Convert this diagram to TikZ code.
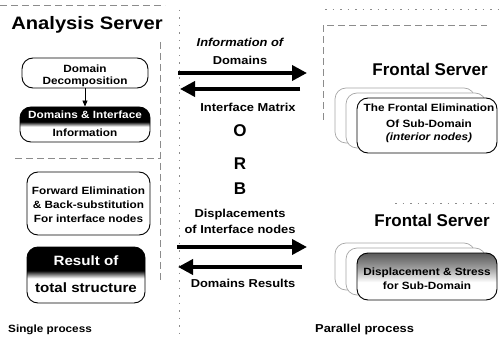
\documentclass[tikz,border=0pt]{standalone}
\usepackage{fontspec}
\setmainfont{Liberation Sans}
\newfontfamily\widesans[FakeStretch=1.12]{Liberation Sans}
\usetikzlibrary{arrows.meta}
% dark upper half, white lower half (path edges sit at 25bp and 75bp)
\pgfdeclareverticalshading{darktop}{100bp}{color(0bp)=(white); color(25bp)=(white); color(47bp)=(white); color(54bp)=(black); color(75bp)=(black); color(100bp)=(black)}
\pgfdeclareverticalshading{greytop}{100bp}{color(0bp)=(white); color(25bp)=(white); color(44bp)=(white); color(60bp)=(black!40); color(75bp)=(black!65); color(100bp)=(black!65)}
\begin{document}
\begin{tikzpicture}[x=1pt,y=-1pt,
  heading/.style={font=\fontsize{18}{20}\selectfont\widesans\bfseries, inner sep=0pt},
  serverhead/.style={font=\fontsize{17}{20}\selectfont\bfseries, inner sep=0pt},
  midlabel/.style={font=\fontsize{11.5}{14}\selectfont\widesans\bfseries, inner sep=0pt},
  boxlabel/.style={font=\fontsize{10.5}{14}\selectfont\widesans\bfseries, inner sep=0pt},
  biglabel/.style={font=\fontsize{13.5}{16}\selectfont\widesans\bfseries, inner sep=0pt},
  bigletter/.style={font=\fontsize{17}{20}\selectfont\bfseries, inner sep=0pt},
  proclabel/.style={font=\fontsize{10.5}{14}\selectfont\widesans\bfseries, inner sep=0pt},
  procbox/.style={draw, rounded corners=11pt, line width=0.9pt, inner sep=0pt, fill=white},
  backbox/.style={draw=black!35, rounded corners=11pt, line width=0.7pt, inner sep=0pt, fill=white},
  darkbox/.style={draw, rounded corners=11pt, line width=0.9pt, inner sep=0pt, shading=darktop},
  greybox/.style={draw, rounded corners=11pt, line width=0.9pt, inner sep=0pt, shading=greytop},
  frameline/.style={draw=black!45, line width=0.6pt, dash pattern=on 7pt off 4pt},
  dotline/.style={draw=black!45, line width=0.6pt, dash pattern=on 1.5pt off 6pt},
  bigarrow/.style={line width=3.6pt, -{Triangle[length=15pt,width=15pt]}},
  smallarrow/.style={line width=0.9pt, -{Triangle[length=6pt,width=5pt]}}
]
\useasboundingbox (0,0) rectangle (500,339);

% ---- panel frames ----
\draw[frameline] (0,5) -- (165,5);
\draw[frameline] (160,42) -- (160,282);
\draw[frameline] (15,158) -- (160,158);
\draw[dotline] (179,10) -- (179,339);
\draw[frameline] (323,120) -- (323,25) -- (487,25);
\draw[dotline] (325,9) -- (498,9);
\draw[dotline] (395,203) -- (495,203);

% ---- single process (left) ----
\node[heading, anchor=base] (anaTitle) at (87,30) {Analysis Server};

\node[procbox, minimum width=126pt, minimum height=30pt] (decomp) at (85,73) {};
\node[boxlabel, anchor=base] (decompA) at (85,73) {Domain};
\node[boxlabel, anchor=base] (decompB) at (85,85) {Decomposition};

\node[darkbox, minimum width=130pt, minimum height=35pt] (info) at (85,124.5) {};
\node[boxlabel, anchor=base, text=white] (infoA) at (85,119) {Domains \& Interface};
\node[boxlabel, anchor=base] (infoB) at (85,137) {Information};

\draw[smallarrow] (decomp.south) -- (info.north);

\node[procbox, minimum width=123pt, minimum height=63pt] (forward) at (88.5,203.5) {};
\node[boxlabel, anchor=base] (forwardA) at (88.5,194) {Forward Elimination};
\node[boxlabel, anchor=base] (forwardB) at (88.5,208) {\& Back-substitution};
\node[boxlabel, anchor=base] (forwardC) at (88.5,222) {For interface nodes};

\node[darkbox, minimum width=118pt, minimum height=56pt] (result) at (86,275) {};
\node[biglabel, anchor=base, text=white] (resultA) at (86,265) {Result of};
\node[biglabel, anchor=base] (resultB) at (86,292) {total structure};

\node[proclabel, anchor=base west] (single) at (8,332) {Single process};

% ---- ORB (middle) ----
\node[midlabel, anchor=base] (msgA) at (240,47) {\itshape Information of};
\node[midlabel, anchor=base] (msgB) at (240,65) {Domains};
\node[midlabel, anchor=base] (msgC) at (248,112) {Interface Matrix};
\node[bigletter, anchor=base] (orbO) at (240,137) {O};
\node[bigletter, anchor=base] (orbR) at (240,169) {R};
\node[bigletter, anchor=base] (orbB) at (240,194) {B};
\node[midlabel, anchor=base] (msgD) at (240,217) {Displacements};
\node[midlabel, anchor=base] (msgE) at (240,233) {of Interface nodes};
\node[midlabel, anchor=base] (msgF) at (243,287) {Domains Results};

\coordinate (sendL1) at (178,73);
\coordinate (sendR1) at (307,73);
\coordinate (backR1) at (300,89);
\coordinate (backL1) at (180,89);
\coordinate (sendL2) at (177,247);
\coordinate (sendR2) at (307,247);
\coordinate (backR2) at (302,267);
\coordinate (backL2) at (178,267);
\draw[bigarrow] (sendL1) -- (sendR1);
\draw[bigarrow] (backR1) -- (backL1);
\draw[bigarrow] (sendL2) -- (sendR2);
\draw[bigarrow] (backR2) -- (backL2);

% ---- parallel process (right) ----
\node[serverhead, anchor=base] (frontA) at (430,76) {Frontal Server};
\node[backbox, minimum width=140pt, minimum height=55pt] (elimC) at (405,115.5) {};
\node[backbox, minimum width=140pt, minimum height=55pt] (elimB) at (416,120.5) {};
\node[procbox, minimum width=140pt, minimum height=55pt] (elim) at (427,125.5) {};
\node[boxlabel, anchor=base] (elimA1) at (429,112) {The Frontal Elimination};
\node[boxlabel, anchor=base] (elimA2) at (429,128) {Of Sub-Domain};
\node[boxlabel, anchor=base] (elimA3) at (429,141) {\itshape (interior nodes)};

\node[serverhead, anchor=base] (frontB) at (432,226) {Frontal Server};
\node[backbox, minimum width=140pt, minimum height=47pt] (dispC) at (405,266.5) {};
\node[backbox, minimum width=140pt, minimum height=47pt] (dispB) at (416,271.5) {};
\node[greybox, minimum width=140pt, minimum height=47pt] (disp) at (427,276.5) {};
\node[boxlabel, anchor=base] (dispA1) at (427,275) {Displacement \& Stress};
\node[boxlabel, anchor=base] (dispA2) at (427,289) {for Sub-Domain};

\node[proclabel, anchor=base west, font=\fontsize{11.5}{14}\selectfont\widesans\bfseries] (parallel) at (315,332) {Parallel process};
\end{tikzpicture}
\end{document}
